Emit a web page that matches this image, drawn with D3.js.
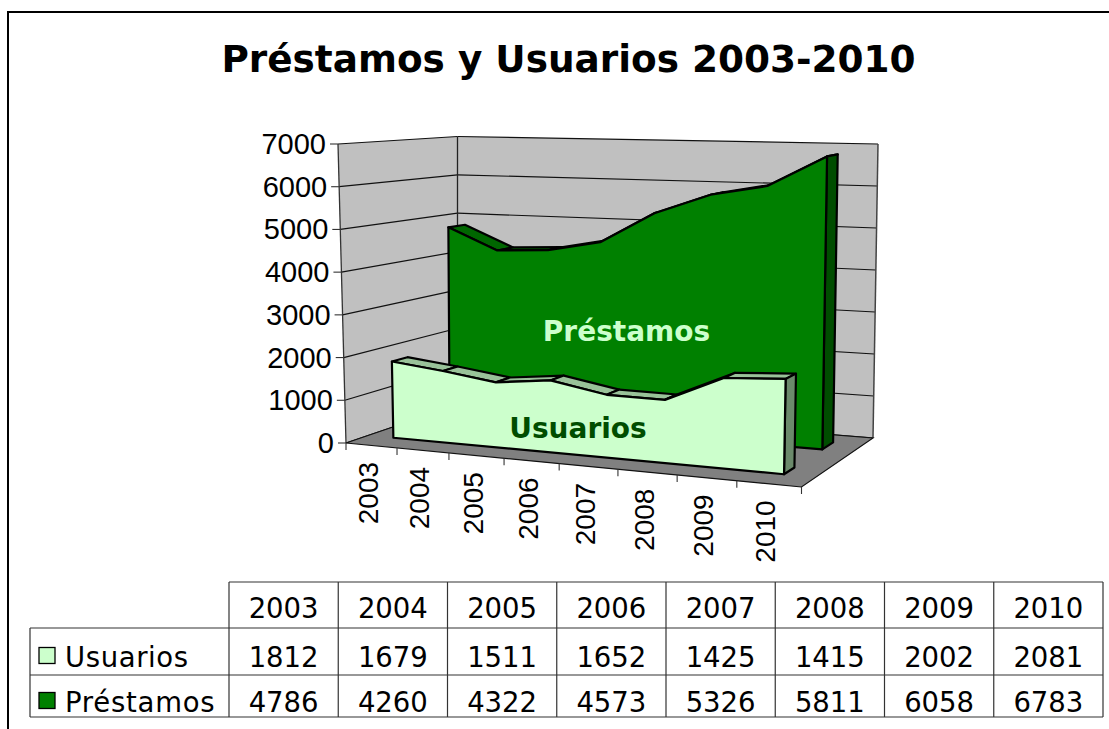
<!DOCTYPE html>
<html><head><meta charset="utf-8">
<style>html,body{margin:0;padding:0;background:#fff}svg{display:block}</style>
<script src="https://cdn.jsdelivr.net/npm/d3@7"></script>
</head><body><svg id="c" width="1109" height="729"></svg>
<script>
const years = ["2003","2004","2005","2006","2007","2008","2009","2010"];
const usuarios = [1812,1679,1511,1652,1425,1415,2002,2081];
const prestamos = [4786,4260,4322,4573,5326,5811,6058,6783];
const yTicks = [0,1000,2000,3000,4000,5000,6000,7000];
const titleText = "Préstamos y Usuarios 2003-2010";

const svg = d3.select("#c");
const SANS = "'Liberation Sans',Arial,sans-serif", VERD = "'DejaVu Sans',Verdana,sans-serif";

// projected box corners
const A=[346,443],B=[801.5,487],C=[457.5,405],D=[873,438];
const A2=[338,144],B2=[808,157],C2=[457.5,136.5],D2=[878,144];
const lerp=(p,q,t)=>[p[0]+(q[0]-p[0])*t,p[1]+(q[1]-p[1])*t];
// category slots with perspective spacing
const uWarp=d3.scaleLinear().domain(d3.range(9)).range([0,.112,.226,.347,.468,.597,.727,.858,1]);
const slot=d3.scalePoint().domain(years).range([0,8]).padding(.5);
const y01=d3.scaleLinear().domain([0,7000]).range([0,1]);
function P(c,v,d){
  const u=uWarp(c),t=y01(v);
  const f=lerp(lerp(A,B,u),lerp(C,D,u),d), g=lerp(lerp(A2,B2,u),lerp(C2,D2,u),d);
  return lerp(f,g,t);
}
const poly=pts=>"M"+pts.map(p=>p[0].toFixed(2)+","+p[1].toFixed(2)).join("L")+"Z";
const line=(g,p,q,st,w)=>g.append("line").attr("x1",p[0]).attr("y1",p[1]).attr("x2",q[0]).attr("y2",q[1]).attr("stroke",st).attr("stroke-width",w);

// frame
svg.append("path").attr("d","M8,729V12H1109").attr("fill","none").attr("stroke","#000").attr("stroke-width",2);
svg.append("text").attr("x",568.5).attr("y",72).attr("text-anchor","middle").attr("font-family",VERD).attr("font-weight","bold").attr("font-size",37.4).attr("fill","#000").text(titleText);

// walls + floor
const g=svg.append("g");
const dark="#111";
g.append("path").attr("d",poly([A,A2,C2,C])).attr("fill","#c0c0c0").attr("stroke","none");
g.append("path").attr("d",poly([C,C2,D2,D])).attr("fill","#c0c0c0").attr("stroke","none");
yTicks.forEach(v=>{
  line(g,P(0,v,0),P(0,v,1),dark,1.2);
  line(g,P(0,v,1),P(8,v,1),dark,1.2);
});
line(g,A,A2,"#333",1.3);line(g,C,C2,"#222",1.3);line(g,D,D2,"#444",1.5);
g.append("path").attr("d",poly([A,B,D,C])).attr("fill","#808080").attr("stroke","#111").attr("stroke-width",1.2);
// axis ticks + labels
yTicks.forEach(v=>{
  const p=P(0,v,0);
  line(g,[p[0]-8,p[1]],p,"#333",1.1);
  g.append("text").attr("x",p[0]-12).attr("y",p[1]+10).attr("text-anchor","end").attr("font-family",SANS).attr("font-size",29).attr("fill","#000").text(v);
});
d3.range(9).forEach(i=>{
  const p=P(i,0,0);
  line(g,p,[p[0],p[1]+7],"#333",1.1);
});
years.forEach((y,i)=>{
  const p=P(slot(y),0,0);
  g.append("text").attr("transform",`translate(${p[0]+6},${p[1]+16.5}) rotate(-90)`).attr("text-anchor","end").attr("font-family",SANS).attr("font-size",28).attr("fill","#000").text(y);
});

// series ribbons
function ribbon(vals,d0,d1,face,top,side){
  const G=svg.append("g").attr("stroke","#000").attr("stroke-width",2.2).attr("stroke-linejoin","round");
  const cs=years.map(y=>slot(y));
  const F=cs.map((c,i)=>P(c,vals[i],d0)), R=cs.map((c,i)=>P(c,vals[i],d1));
  const n=cs.length-1;
  G.selectAll("path.top").data(d3.range(n)).join("path").attr("class","top")
    .attr("d",i=>poly([F[i],F[i+1],R[i+1],R[i]])).attr("fill",top);
  G.append("path").attr("d",poly([F[n],R[n],P(cs[n],0,d1),P(cs[n],0,d0)])).attr("fill",side);
  G.append("path").attr("d",poly([P(cs[0],0,d0),...F,P(cs[n],0,d0)])).attr("fill",face);
}
ribbon(prestamos,.715,.86,"#008000","#006600","#004d00");
ribbon(usuarios,.2,.34,"#ccffcc","#99c299","#6b8a6b");

svg.append("text").attr("x",626.5).attr("y",341).attr("text-anchor","middle").attr("font-family",VERD).attr("font-weight","bold").attr("font-size",28).attr("fill","#ccffcc").text("Préstamos");
svg.append("text").attr("x",578).attr("y",438).attr("text-anchor","middle").attr("font-family",VERD).attr("font-weight","bold").attr("font-size",28).attr("fill","#004d00").text("Usuarios");

// data table
const colX=d3.scaleLinear().domain([0,8]).range([229,1103]);
const rowY=[582,628,675,717], legendX=30;
const T=svg.append("g");
const tl="#333";
line(T,[229,rowY[0]],[1103,rowY[0]],tl,1.2);
[1,2,3].forEach(r=>line(T,[legendX,rowY[r]],[1103,rowY[r]],tl,1.2));
line(T,[legendX,rowY[1]],[legendX,rowY[3]],tl,1.2);
d3.range(9).forEach(i=>line(T,[colX(i),rowY[0]],[colX(i),rowY[3]],tl,1.2));
const tt=(x,y,s,a)=>T.append("text").attr("x",x).attr("y",y).attr("text-anchor",a).attr("font-family",VERD).attr("font-size",27.5).attr("fill","#000").text(s);
years.forEach((y,i)=>{
  const x=colX(i+.5);
  tt(x,618,y,"middle");tt(x,667,usuarios[i],"middle");tt(x,712,prestamos[i],"middle");
});
T.append("rect").attr("x",39).attr("y",647.5).attr("width",16).attr("height",16).attr("fill","#ccffcc").attr("stroke","#000").attr("stroke-width",1.3);
T.append("rect").attr("x",39).attr("y",692.5).attr("width",16).attr("height",16).attr("fill","#008000").attr("stroke","#000").attr("stroke-width",1.3);
tt(65,667,"Usuarios","start").attr("letter-spacing",.6);tt(65,712,"Préstamos","start").attr("letter-spacing",.75);
</script></body></html>
